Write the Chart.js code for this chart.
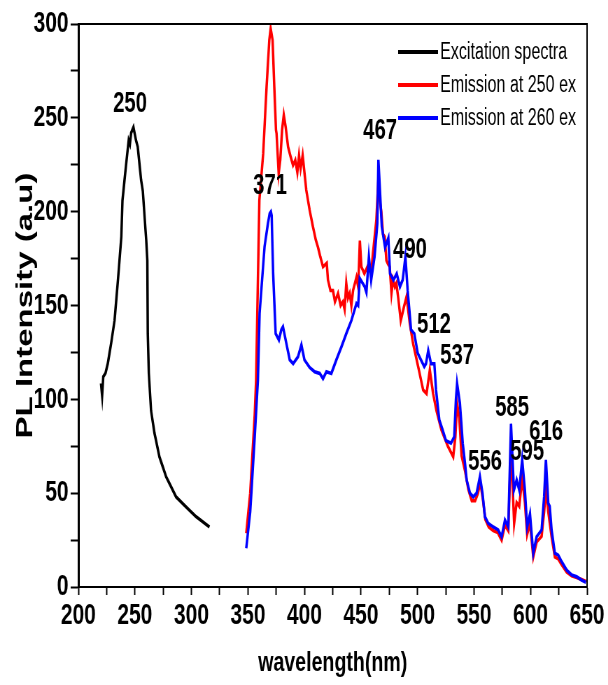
<!DOCTYPE html>
<html>
<head>
<meta charset="utf-8">
<script src="https://cdn.jsdelivr.net/npm/chart.js@4.4.1/dist/chart.umd.min.js"></script>
<style>
  html, body { margin: 0; padding: 0; background: #fff; overflow: hidden; }
  /* the original figure is squeezed sideways, so draw wide and squeeze */
  #wrap { width: 869px; height: 685px; transform: scaleX(0.6997); transform-origin: 0 0; }
</style>
</head>
<body>
<div id="wrap"><canvas id="mycanvas" width="869" height="685"></canvas></div>
<script>
var seriesNames = ['Excitation spectra', 'Emission at 250 ex', 'Emission at 260 ex'];

var excWavelength = [220, 221, 222, 224, 226, 229, 232, 235, 238, 239, 242, 244.5, 245.6, 246.7, 248.7, 251, 252.5, 255.5, 257, 260, 261, 261.4, 262.3, 264.3, 267.3, 271.7, 277.6, 286.5, 295, 304, 316];
var excIntensity = [108.5, 102, 112, 114, 119, 130, 142, 163.6, 186.6, 206, 224, 238, 236, 242, 245, 238, 234.6, 216.8, 211, 185, 174, 135, 114, 94, 82, 69.4, 58.8, 48, 42.8, 37.5, 32];

var em250Wavelength = [348.5, 352, 356, 357.2, 360.1, 363.5, 366.5, 368.9, 370.1, 371.8, 373.3, 374.8, 375.3, 377.2, 378.6, 380.2, 381.7, 383.4, 385.5, 387.9, 389.9, 391.9, 393.7, 395.2, 396.6, 398.4, 401.6, 404.6, 407.5, 410, 412, 414, 416.4, 419.7, 420.8, 423, 425.2, 427, 429.7, 432, 434, 435.5, 437, 438.5, 440, 441.5, 443, 446, 447.5, 449, 450.4, 453, 456, 459, 460.6, 463.6, 465.5, 466.6, 468, 469.5, 471, 472.5, 474, 475.4, 477, 478.4, 480, 481.3, 483, 485.2, 487.9, 490.3, 493.2, 496, 500.6, 505, 508, 510.9, 513.8, 516.8, 521.2, 527, 531.6, 533.5, 535, 537, 539, 542, 545, 548, 551, 553.5, 555.5, 558, 560, 563, 567, 571, 574.4, 577.4, 580.3, 582.7, 585.5, 587.7, 590, 592.6, 595, 597, 599.5, 602.4, 605.4, 609.8, 612, 613.6, 615.7, 618.6, 621.5, 624.5, 627.5, 632, 636.4, 640.8, 645.2, 649];
var em250Intensity = [28.6, 50, 92, 110, 206, 231, 266.6, 291.5, 297.6, 291.5, 266.6, 243.5, 241.7, 220.4, 227.5, 243.5, 251.5, 245, 234.6, 229, 224.8, 227.5, 221, 230, 223, 230, 211.5, 200.8, 192, 185, 181, 176, 170.6, 172.6, 163.6, 158, 158, 152, 156.5, 150, 152, 148, 161.8, 154, 156.5, 150, 158, 165, 160, 184.6, 170.6, 167, 171, 167, 177.8, 195.5, 218.7, 206, 200, 188, 186.6, 174, 172, 170.6, 156.5, 163.6, 160, 161.8, 153.8, 142, 149, 154.7, 140.5, 130, 117.4, 105, 103, 115.6, 103, 94, 83.6, 74.8, 69.4, 80, 97.9, 90, 70, 62, 52, 46, 46, 50, 56, 46, 36, 32, 30, 29, 25, 33, 30, 75, 34, 45, 43, 58, 45, 28, 34, 16, 24, 27, 40, 52, 40, 27, 16, 15, 12, 8, 6, 5, 4, 3];

var em260Wavelength = [348.5, 352, 356, 358.8, 360.3, 364.7, 367.7, 369.2, 370.3, 371, 372.3, 374.5, 377.4, 379.5, 381, 384, 387, 390, 394.3, 397.3, 400, 404.6, 409, 413.5, 416.4, 419.4, 423.8, 428.2, 432.7, 437, 441.5, 446, 447.5, 448.9, 453.3, 454.8, 457, 459, 462, 464.5, 465.4, 468.4, 471.3, 474.2, 475.7, 478.7, 481.6, 484.5, 486.9, 489.3, 491.3, 494.3, 497.2, 500.2, 503.1, 506, 507.5, 509.5, 512, 514.9, 516.4, 519.3, 522.3, 525.2, 529.6, 532.5, 534, 535, 537.5, 540, 542, 543.5, 546.4, 549.3, 552.3, 555.2, 557.5, 559.6, 562.5, 567, 571.4, 574.4, 577.4, 580.3, 582.7, 585.3, 587.7, 590, 592.6, 595, 597, 599.5, 602.4, 605.4, 609.8, 612, 613.6, 615.7, 617, 618.6, 621.5, 624.5, 627.5, 632, 636.4, 640.8, 645.2, 649];
var em260Intensity = [20.6, 40, 80, 110, 145.8, 181.3, 193.8, 199, 200, 198, 167, 135, 131.6, 137, 138.7, 129.8, 121, 119, 122.7, 129, 121, 117, 114.7, 113.8, 111, 114.7, 113.8, 121, 128, 135, 142, 151, 150, 164.5, 160, 157, 176, 163.6, 176, 193.8, 227.6, 192, 181, 186, 167, 163.6, 167, 160, 163.6, 176, 158, 137, 135, 124.5, 121, 117.4, 119, 126, 119, 119, 105, 89, 83.6, 78, 76.6, 80, 100, 108.5, 98, 76.6, 66, 57, 50, 48, 50, 58.8, 50, 37.5, 34, 32, 30.4, 26.8, 35.7, 32, 87, 51.7, 57, 51.7, 67.7, 51.7, 32, 39, 18, 26.8, 30.4, 48, 67.7, 44.6, 43, 30.4, 18, 17, 13.5, 9, 6.4, 5.5, 3.7, 2.5];

var seriesColors = ['#000000', '#ff0000', '#0000ff'];

// peak labels (text centre, in data units)
var peakLabels = ['250', '371', '467', '490', '512', '537', '556', '585', '595', '616'];
var peakX = [245.7, 369.6, 466.9, 493.4, 514.6, 535, 559.8, 583.7, 597, 613.8];
var peakY = [257.5, 213.8, 243.1, 179.7, 139.7, 123.2, 66.6, 95.4, 72, 82.6];

var xTicks = [200, 250, 300, 350, 400, 450, 500, 550, 600, 650];
var yTicks = [0, 50, 100, 150, 200, 250, 300];

function toPoints(xs, ys) {
  var pts = [];
  for (var i in xs) {
    pts.push({x: xs[i], y: ys[i]});
  }
  return pts;
}

var narrow = "'Liberation Sans Narrow', 'Arial Narrow', 'Liberation Sans', Arial, sans-serif";

var framePlugin = {
  id: 'frame',
  afterDraw: function(chart) {
    var ctx = chart.ctx;
    var a = chart.chartArea;
    ctx.save();
    ctx.strokeStyle = '#000';
    ctx.lineWidth = 2;
    ctx.beginPath();
    ctx.moveTo(a.left, a.top);
    ctx.lineTo(a.right, a.top);
    ctx.lineTo(a.right, a.bottom);
    ctx.stroke();

    // peak labels
    ctx.fillStyle = '#000';
    ctx.font = 'bold 29px ' + narrow;
    ctx.textAlign = 'center';
    ctx.textBaseline = 'middle';
    for (var i = 0; i < peakLabels.length; i++) {
      ctx.fillText(peakLabels[i], chart.scales.x.getPixelForValue(peakX[i]), chart.scales.y.getPixelForValue(peakY[i]));
    }

    // legend, top right inside the plot
    var lx = a.right - 270;
    ctx.font = '23px ' + narrow;
    ctx.textAlign = 'left';
    for (var j = 0; j < chart.data.datasets.length; j++) {
      var ds = chart.data.datasets[j];
      var ly = a.top + 28 + j * 33;
      ctx.strokeStyle = ds.borderColor;
      ctx.lineWidth = 4;
      ctx.beginPath();
      ctx.moveTo(lx, ly);
      ctx.lineTo(lx + 57, ly);
      ctx.stroke();
      ctx.fillText(ds.label, lx + 60, ly + 1);
    }
    ctx.restore();
  }
};

var chartdata = {
  datasets: [
    {label: seriesNames[0], data: toPoints(excWavelength, excIntensity), borderColor: seriesColors[0], order: 2},
    {label: seriesNames[1], data: toPoints(em250Wavelength, em250Intensity), borderColor: seriesColors[1], order: 1},
    {label: seriesNames[2], data: toPoints(em260Wavelength, em260Intensity), borderColor: seriesColors[2], order: 0}
  ]
};
chartdata.datasets.forEach(function(d) {
  d.showLine = true;
  d.pointRadius = 0;
  d.borderWidth = 3.5;
  d.tension = 0;
  d.fill = false;
});

var ctx = document.getElementById('mycanvas');

var specChart = new Chart(ctx, {
  type: 'scatter',
  data: chartdata,
  options: {
    responsive: false,
    animation: false,
    devicePixelRatio: 1,
    layout: {padding: {top: 24, right: 30, left: 0, bottom: 0}},
    plugins: {legend: {display: false}, tooltip: {enabled: false}},
    scales: {
      x: {
        type: 'linear',
        min: 200,
        max: 650,
        afterFit: function(scale) { scale.height = 98; },
        border: {color: '#000', width: 2},
        grid: {drawOnChartArea: false, color: '#000', tickLength: 8, tickWidth: 2},
        ticks: {
          stepSize: 25,
          padding: 3,
          color: '#000',
          maxRotation: 0,
          autoSkip: false,
          font: {family: narrow, size: 30, weight: 'bold'},
          callback: function(v) { return xTicks.indexOf(v) >= 0 ? v : ''; }
        },
        title: {
          display: true,
          text: 'wavelength(nm)',
          color: '#000',
          font: {family: narrow, size: 28, weight: 'bold'},
          padding: {top: 5, bottom: 5}
        }
      },
      y: {
        type: 'linear',
        min: 0,
        max: 300,
        afterFit: function(scale) { scale.width = 112; },
        border: {color: '#000', width: 3},
        grid: {drawOnChartArea: false, color: '#000', tickLength: 11, tickWidth: 2},
        ticks: {
          stepSize: 25,
          padding: 3,
          color: '#000',
          autoSkip: false,
          font: {family: narrow, size: 30, weight: 'bold'},
          callback: function(v) { return yTicks.indexOf(v) >= 0 ? v : ''; }
        },
        title: {
          display: true,
          text: 'PL Intensity (a.u)',
          color: '#000',
          font: {family: "'Liberation Sans', Arial, sans-serif", size: 33, weight: 'bold'},
          padding: {top: 17, bottom: 0}
        }
      }
    }
  },
  plugins: [framePlugin]
});
</script>
</body>
</html>
